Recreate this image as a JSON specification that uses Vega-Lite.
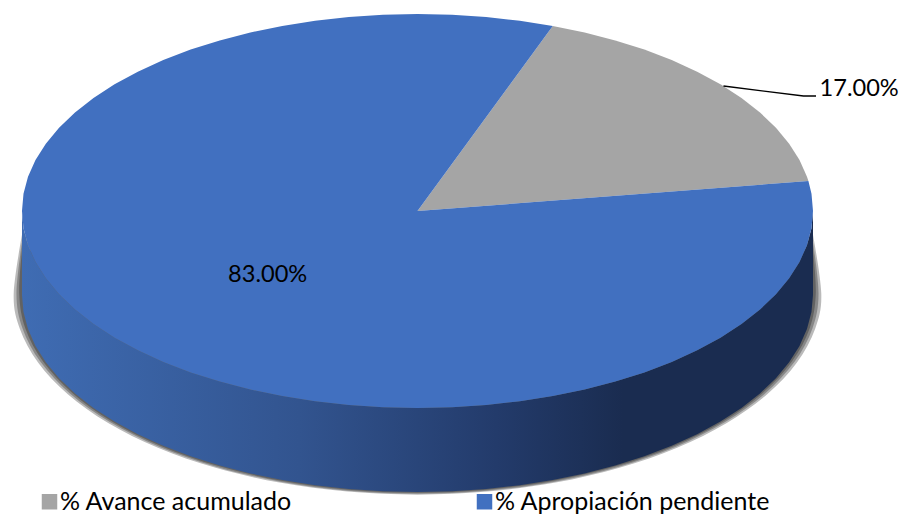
{"$schema":"https://vega.github.io/schema/vega-lite/v6.json","width":901,"height":514,"padding":0,"autosize":"none","background":"white","config":{"view":{"stroke":null}},
"datasets":{
"shadow":[
{"k":1,"o":0,"u":-1,"v":-0.12},{"k":1,"o":1,"u":-1.021,"v":-0.42},{"k":1,"o":2,"u":-1.0055,"v":-0.5971},{"k":1,"o":3,"u":-0.9594,"v":-0.7688},{"k":1,"o":4,"u":-0.8842,"v":-0.93},{"k":1,"o":5,"u":-0.7821,"v":-1.0757},{"k":1,"o":6,"u":-0.6563,"v":-1.2013},{"k":1,"o":7,"u":-0.5105,"v":-1.3033},{"k":1,"o":8,"u":-0.3492,"v":-1.3785},{"k":1,"o":9,"u":-0.1772,"v":-1.4245},{"k":1,"o":10,"u":0,"v":-1.44},{"k":1,"o":11,"u":0.1772,"v":-1.4245},{"k":1,"o":12,"u":0.3492,"v":-1.3785},{"k":1,"o":13,"u":0.5105,"v":-1.3033},{"k":1,"o":14,"u":0.6563,"v":-1.2013},{"k":1,"o":15,"u":0.7821,"v":-1.0757},{"k":1,"o":16,"u":0.8842,"v":-0.93},{"k":1,"o":17,"u":0.9594,"v":-0.7688},{"k":1,"o":18,"u":1.0055,"v":-0.5971},{"k":1,"o":19,"u":1.021,"v":-0.42},{"k":1,"o":20,"u":1,"v":-0.12},
{"k":2,"o":0,"u":-1,"v":-0.16},{"k":2,"o":1,"u":-1.014,"v":-0.42},{"k":2,"o":2,"u":-0.9986,"v":-0.5962},{"k":2,"o":3,"u":-0.9529,"v":-0.7671},{"k":2,"o":4,"u":-0.8781,"v":-0.9275},{"k":2,"o":5,"u":-0.7767,"v":-1.0724},{"k":2,"o":6,"u":-0.6518,"v":-1.1975},{"k":2,"o":7,"u":-0.507,"v":-1.299},{"k":2,"o":8,"u":-0.3468,"v":-1.3738},{"k":2,"o":9,"u":-0.176,"v":-1.4196},{"k":2,"o":10,"u":0,"v":-1.435},{"k":2,"o":11,"u":0.176,"v":-1.4196},{"k":2,"o":12,"u":0.3468,"v":-1.3738},{"k":2,"o":13,"u":0.507,"v":-1.299},{"k":2,"o":14,"u":0.6518,"v":-1.1975},{"k":2,"o":15,"u":0.7767,"v":-1.0724},{"k":2,"o":16,"u":0.8781,"v":-0.9275},{"k":2,"o":17,"u":0.9529,"v":-0.7671},{"k":2,"o":18,"u":0.9986,"v":-0.5962},{"k":2,"o":19,"u":1.014,"v":-0.42},{"k":2,"o":20,"u":1,"v":-0.16},
{"k":3,"o":0,"u":-1,"v":-0.2},{"k":3,"o":1,"u":-1.007,"v":-0.42},{"k":3,"o":2,"u":-0.9917,"v":-0.5953},{"k":3,"o":3,"u":-0.9463,"v":-0.7654},{"k":3,"o":4,"u":-0.8721,"v":-0.925},{"k":3,"o":5,"u":-0.7714,"v":-1.0692},{"k":3,"o":6,"u":-0.6473,"v":-1.1937},{"k":3,"o":7,"u":-0.5035,"v":-1.2947},{"k":3,"o":8,"u":-0.3444,"v":-1.3691},{"k":3,"o":9,"u":-0.1748,"v":-1.4146},{"k":3,"o":10,"u":0,"v":-1.43},{"k":3,"o":11,"u":0.1748,"v":-1.4146},{"k":3,"o":12,"u":0.3444,"v":-1.3691},{"k":3,"o":13,"u":0.5035,"v":-1.2947},{"k":3,"o":14,"u":0.6473,"v":-1.1937},{"k":3,"o":15,"u":0.7714,"v":-1.0692},{"k":3,"o":16,"u":0.8721,"v":-0.925},{"k":3,"o":17,"u":0.9463,"v":-0.7654},{"k":3,"o":18,"u":0.9917,"v":-0.5953},{"k":3,"o":19,"u":1.007,"v":-0.42},{"k":3,"o":20,"u":1,"v":-0.2}],
"side":[{"u":-1,"v":0,"w":-0.426},{"u":-0.9962,"v":-0.0872,"w":-0.5132},{"u":-0.9848,"v":-0.1736,"w":-0.5996},{"u":-0.9659,"v":-0.2588,"w":-0.6848},{"u":-0.9397,"v":-0.342,"w":-0.768},{"u":-0.9063,"v":-0.4226,"w":-0.8486},{"u":-0.866,"v":-0.5,"w":-0.926},{"u":-0.8192,"v":-0.5736,"w":-0.9996},{"u":-0.766,"v":-0.6428,"w":-1.0688},{"u":-0.7071,"v":-0.7071,"w":-1.1331},{"u":-0.6428,"v":-0.766,"w":-1.192},{"u":-0.5736,"v":-0.8192,"w":-1.2452},{"u":-0.5,"v":-0.866,"w":-1.292},{"u":-0.4226,"v":-0.9063,"w":-1.3323},{"u":-0.342,"v":-0.9397,"w":-1.3657},{"u":-0.2588,"v":-0.9659,"w":-1.3919},{"u":-0.1736,"v":-0.9848,"w":-1.4108},{"u":-0.0872,"v":-0.9962,"w":-1.4222},{"u":0,"v":-1,"w":-1.426},{"u":0.0872,"v":-0.9962,"w":-1.4222},{"u":0.1736,"v":-0.9848,"w":-1.4108},{"u":0.2588,"v":-0.9659,"w":-1.3919},{"u":0.342,"v":-0.9397,"w":-1.3657},{"u":0.4226,"v":-0.9063,"w":-1.3323},{"u":0.5,"v":-0.866,"w":-1.292},{"u":0.5736,"v":-0.8192,"w":-1.2452},{"u":0.6428,"v":-0.766,"w":-1.192},{"u":0.7071,"v":-0.7071,"w":-1.1331},{"u":0.766,"v":-0.6428,"w":-1.0688},{"u":0.8192,"v":-0.5736,"w":-0.9996},{"u":0.866,"v":-0.5,"w":-0.926},{"u":0.9063,"v":-0.4226,"w":-0.8486},{"u":0.9397,"v":-0.342,"w":-0.768},{"u":0.9659,"v":-0.2588,"w":-0.6848},{"u":0.9848,"v":-0.1736,"w":-0.5996},{"u":0.9962,"v":-0.0872,"w":-0.5132},{"u":1,"v":0,"w":-0.426}],
"slices":[
{"s":"% Avance acumulado","a":0,"u":0,"v":0},{"s":"% Avance acumulado","a":8.75,"u":0.9884,"v":0.1521},{"s":"% Avance acumulado","a":10,"u":0.9848,"v":0.1736},{"s":"% Avance acumulado","a":15,"u":0.9659,"v":0.2588},{"s":"% Avance acumulado","a":20,"u":0.9397,"v":0.342},{"s":"% Avance acumulado","a":25,"u":0.9063,"v":0.4226},{"s":"% Avance acumulado","a":30,"u":0.866,"v":0.5},{"s":"% Avance acumulado","a":35,"u":0.8192,"v":0.5736},{"s":"% Avance acumulado","a":40,"u":0.766,"v":0.6428},{"s":"% Avance acumulado","a":45,"u":0.7071,"v":0.7071},{"s":"% Avance acumulado","a":50,"u":0.6428,"v":0.766},{"s":"% Avance acumulado","a":55,"u":0.5736,"v":0.8192},{"s":"% Avance acumulado","a":60,"u":0.5,"v":0.866},{"s":"% Avance acumulado","a":65,"u":0.4226,"v":0.9063},{"s":"% Avance acumulado","a":70,"u":0.342,"v":0.9397},
{"s":"% Apropiación pendiente","a":69,"u":0,"v":0},{"s":"% Apropiación pendiente","a":70,"u":0.342,"v":0.9397},{"s":"% Apropiación pendiente","a":75,"u":0.2588,"v":0.9659},{"s":"% Apropiación pendiente","a":80,"u":0.1736,"v":0.9848},{"s":"% Apropiación pendiente","a":85,"u":0.0872,"v":0.9962},{"s":"% Apropiación pendiente","a":90,"u":0,"v":1},{"s":"% Apropiación pendiente","a":95,"u":-0.0872,"v":0.9962},{"s":"% Apropiación pendiente","a":100,"u":-0.1736,"v":0.9848},{"s":"% Apropiación pendiente","a":105,"u":-0.2588,"v":0.9659},{"s":"% Apropiación pendiente","a":110,"u":-0.342,"v":0.9397},{"s":"% Apropiación pendiente","a":115,"u":-0.4226,"v":0.9063},{"s":"% Apropiación pendiente","a":120,"u":-0.5,"v":0.866},{"s":"% Apropiación pendiente","a":125,"u":-0.5736,"v":0.8192},{"s":"% Apropiación pendiente","a":130,"u":-0.6428,"v":0.766},{"s":"% Apropiación pendiente","a":135,"u":-0.7071,"v":0.7071},{"s":"% Apropiación pendiente","a":140,"u":-0.766,"v":0.6428},{"s":"% Apropiación pendiente","a":145,"u":-0.8192,"v":0.5736},{"s":"% Apropiación pendiente","a":150,"u":-0.866,"v":0.5},{"s":"% Apropiación pendiente","a":155,"u":-0.9063,"v":0.4226},{"s":"% Apropiación pendiente","a":160,"u":-0.9397,"v":0.342},{"s":"% Apropiación pendiente","a":165,"u":-0.9659,"v":0.2588},{"s":"% Apropiación pendiente","a":170,"u":-0.9848,"v":0.1736},{"s":"% Apropiación pendiente","a":175,"u":-0.9962,"v":0.0872},{"s":"% Apropiación pendiente","a":180,"u":-1,"v":0},{"s":"% Apropiación pendiente","a":185,"u":-0.9962,"v":-0.0872},{"s":"% Apropiación pendiente","a":190,"u":-0.9848,"v":-0.1736},{"s":"% Apropiación pendiente","a":195,"u":-0.9659,"v":-0.2588},{"s":"% Apropiación pendiente","a":200,"u":-0.9397,"v":-0.342},{"s":"% Apropiación pendiente","a":205,"u":-0.9063,"v":-0.4226},{"s":"% Apropiación pendiente","a":210,"u":-0.866,"v":-0.5},{"s":"% Apropiación pendiente","a":215,"u":-0.8192,"v":-0.5736},{"s":"% Apropiación pendiente","a":220,"u":-0.766,"v":-0.6428},{"s":"% Apropiación pendiente","a":225,"u":-0.7071,"v":-0.7071},{"s":"% Apropiación pendiente","a":230,"u":-0.6428,"v":-0.766},{"s":"% Apropiación pendiente","a":235,"u":-0.5736,"v":-0.8192},{"s":"% Apropiación pendiente","a":240,"u":-0.5,"v":-0.866},{"s":"% Apropiación pendiente","a":245,"u":-0.4226,"v":-0.9063},{"s":"% Apropiación pendiente","a":250,"u":-0.342,"v":-0.9397},{"s":"% Apropiación pendiente","a":255,"u":-0.2588,"v":-0.9659},{"s":"% Apropiación pendiente","a":260,"u":-0.1736,"v":-0.9848},{"s":"% Apropiación pendiente","a":265,"u":-0.0872,"v":-0.9962},{"s":"% Apropiación pendiente","a":270,"u":0,"v":-1},{"s":"% Apropiación pendiente","a":275,"u":0.0872,"v":-0.9962},{"s":"% Apropiación pendiente","a":280,"u":0.1736,"v":-0.9848},{"s":"% Apropiación pendiente","a":285,"u":0.2588,"v":-0.9659},{"s":"% Apropiación pendiente","a":290,"u":0.342,"v":-0.9397},{"s":"% Apropiación pendiente","a":295,"u":0.4226,"v":-0.9063},{"s":"% Apropiación pendiente","a":300,"u":0.5,"v":-0.866},{"s":"% Apropiación pendiente","a":305,"u":0.5736,"v":-0.8192},{"s":"% Apropiación pendiente","a":310,"u":0.6428,"v":-0.766},{"s":"% Apropiación pendiente","a":315,"u":0.7071,"v":-0.7071},{"s":"% Apropiación pendiente","a":320,"u":0.766,"v":-0.6428},{"s":"% Apropiación pendiente","a":325,"u":0.8192,"v":-0.5736},{"s":"% Apropiación pendiente","a":330,"u":0.866,"v":-0.5},{"s":"% Apropiación pendiente","a":335,"u":0.9063,"v":-0.4226},{"s":"% Apropiación pendiente","a":340,"u":0.9397,"v":-0.342},{"s":"% Apropiación pendiente","a":345,"u":0.9659,"v":-0.2588},{"s":"% Apropiación pendiente","a":350,"u":0.9848,"v":-0.1736},{"s":"% Apropiación pendiente","a":355,"u":0.9962,"v":-0.0872},{"s":"% Apropiación pendiente","a":360,"u":1,"v":0},{"s":"% Apropiación pendiente","a":365,"u":0.9962,"v":0.0872},{"s":"% Apropiación pendiente","a":368.75,"u":0.9884,"v":0.1521}],
"leader":[{"u":0.7736,"v":0.6345,"o":1},{"u":0.976,"v":0.5838,"o":2},{"u":1.0076,"v":0.5838,"o":3}]
},
"encoding":{"x":{"field":"u","type":"quantitative","axis":null,"scale":{"domain":[-1.0556,1.2225],"nice":false,"zero":false}},"y":{"field":"v","type":"quantitative","axis":null,"scale":{"domain":[-1.5381,1.0711],"nice":false,"zero":false}}},
"layer":[
{"data":{"name":"shadow"},"mark":{"type":"line","interpolate":"cardinal","fill":"#000000","stroke":null,"fillOpacity":0.27,"strokeWidth":0},"encoding":{"detail":{"field":"k","type":"nominal"},"order":{"field":"o","type":"quantitative"}}},
{"data":{"name":"side"},"mark":{"type":"area","color":{"gradient":"linear","x1":0,"y1":0,"x2":1,"y2":0,"stops":[{"offset":0,"color":"#3f6cb3"},{"offset":0.35,"color":"#32548f"},{"offset":0.6,"color":"#233b6b"},{"offset":0.76,"color":"#1a2c50"},{"offset":1,"color":"#1a2c50"}]}},"encoding":{"y2":{"field":"w"}}},
{"data":{"name":"slices"},"mark":{"type":"line","filled":true},"encoding":{"order":{"field":"a","type":"quantitative"},"color":{"field":"s","type":"nominal","scale":{"domain":["% Avance acumulado","% Apropiación pendiente"],"range":["#a5a5a5","#4170c0"]},"legend":{"title":null,"orient":"none","legendX":37,"legendY":489,"direction":"horizontal","columns":2,"symbolType":"square","symbolSize":240,"symbolStrokeWidth":0,"labelFont":"Lato","labelFontSize":25,"labelColor":"#000000","labelLimit":400,"columnPadding":180,"symbolOffset":0,"labelOffset":-2}}}},
{"data":{"name":"leader"},"mark":{"type":"line","stroke":"#000000","strokeWidth":1.3},"encoding":{"order":{"field":"o","type":"quantitative"}}},
{"data":{"values":[{"u":1.0165,"v":0.6195,"t":"17.00%"},{"u":-0.479,"v":-0.325,"t":"83.00%"}]},"mark":{"type":"text","align":"left","baseline":"middle","font":"Lato","fontSize":23.6,"color":"#000000"},"encoding":{"text":{"field":"t"}}}
]}
